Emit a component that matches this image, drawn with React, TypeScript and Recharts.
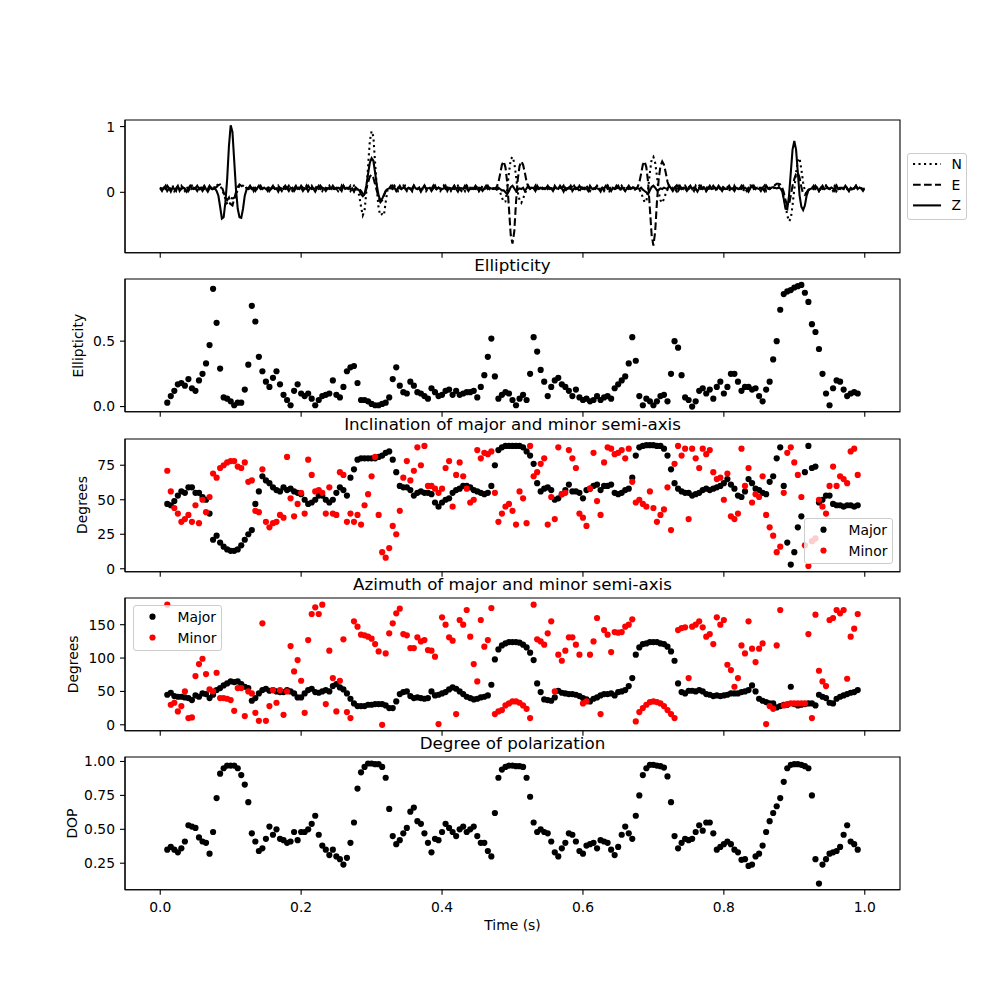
import React from "react";
import { LineChart, Line, ScatterChart, Scatter, XAxis, YAxis, ReferenceArea, Legend } from "recharts";

const FONT = '"DejaVu Sans", sans-serif';

// sampling of the traces
const WAVE_DT = 0.0025; // seismograms start at t = 0
const POL_T0 = 0.01;
const POL_DT = 0.005;

// three-component seismograms, values in hundredths
const WAVE_N = [
  5, 10, 6, 2, 7, 5, 6, 11, 2, 6, 7, 5, 10, 6, 2, 7, 5, 6, 10, 5,
  7, 5, 6, 2, 10, 6, 5, 7, 6, 2, 10, 6, 10, 12, 10, 5, -2, -10, -18, -20,
  -15, -5, -12, -5, 5, 10, 12, 10, 7, 6, 5, 7, 6, 10, 2, 6, 7, 5, 10, 6,
  2, 7, 5, 6, 10, 5, 7, 6, 2, 6, 10, 5, 6, 7, 5, 2, 7, 6, 10, 5,
  6, 7, 5, 10, 2, 6, 5, 7, 6, 10, 5, 6, 2, 7, 5, 6, 10, 6, 5, 7,
  6, 2, 7, 5, 10, 6, 5, 7, 2, 6, 10, 5, 4, -5, -22, -35, -28, 0, 40, 78,
  93, 85, 45, 5, -25, -35, -33, -35, -15, 3, 6, 7, 5, 10, 6, 2, 7, 5, 6, 10,
  5, 6, 7, 2, 10, 6, 5, 7, 6, 5, 10, 2, 6, 7, 5, 6, 10, 5, 7, 2,
  6, 10, 5, 7, 6, 2, 7, 5, 6, 10, 5, 6, 7, 2, 10, 6, 5, 7, 6, 5,
  7, 2, 6, 10, 5, 6, 7, 5, 2, 6, 5, 6, 4, 0, -8, -15, -14, 5, 30, 50,
  54, 45, 25, 0, -12, -16, -10, -2, 4, 6, 7, 5, 6, 10, 2, 7, 5, 6, 10, 5,
  6, 7, 2, 10, 5, 6, 7, 5, 6, 10, 2, 6, 7, 5, 10, 6, 5, 7, 2, 6,
  10, 5, 6, 7, 5, 2, 7, 6, 10, 5, 6, 7, 5, 6, 10, 2, 6, 7, 5, 6,
  7, 5, 10, 6, 2, 6, 7, 5, 6, 10, 5, 6, 4, 0, -8, -15, -14, 5, 30, 50,
  54, 45, 25, 0, -12, -16, -10, -2, 4, 6, 5, 7, 6, 2, 10, 6, 5, 7, 6, 5,
  10, 6, 5, 7, 2, 6, 10, 5, 6, 7, 5, 10, 6, 2, 7, 6, 5, 10, 6, 7,
  5, 6, 10, 2, 7, 5, 6, 7, 5, 10, 6, 2, 7, 6, 5, 10, 6, 7, 5, 6,
  7, 5, 6, 10, 2, 6, 7, 5, 6, 7, 8, 10, 8, 2, -8, -20, -35, -44, -40, -20,
  5, 30, 48, 52, 35, 15, 2, -2, 3, 6, 7, 5, 10, 6, 2, 6, 7, 5, 10, 6,
  5, 7, 6, 10, 2, 6, 5, 7, 6, 10, 5, 6, 7, 2, 6, 10, 5, 7, 6, 5,
  7,
];
const WAVE_E = [
  7, 5, 6, 10, 2, 6, 5, 7, 6, 2, 10, 6, 5, 7, 6, 10, 2, 6, 7, 5,
  6, 10, 5, 7, 2, 6, 7, 5, 10, 6, 5, 7, 8, 11, 12, 8, 0, -8, -12, -8,
  -18, -20, -10, 0, 8, 12, 10, 8, 6, 7, 5, 6, 10, 2, 7, 5, 6, 10, 5, 7,
  6, 2, 10, 5, 7, 6, 5, 10, 6, 2, 7, 5, 6, 10, 5, 7, 2, 6, 7, 5,
  10, 6, 5, 7, 2, 6, 10, 5, 6, 7, 5, 10, 6, 2, 7, 6, 5, 10, 6, 5,
  7, 6, 2, 10, 5, 6, 7, 5, 10, 6, 2, 7, 6, 5, 2, -2, -5, 5, 15, 24,
  27, 22, 12, 2, -8, -15, -12, -5, 2, 5, 7, 6, 10, 5, 2, 7, 6, 5, 10, 6,
  2, 7, 5, 6, 10, 6, 5, 7, 2, 6, 10, 5, 7, 6, 5, 10, 2, 6, 7, 5,
  6, 10, 5, 7, 2, 6, 5, 10, 6, 7, 5, 2, 7, 6, 10, 5, 6, 7, 5, 6,
  10, 2, 6, 7, 5, 6, 10, 5, 7, 6, 6, 8, 15, 28, 42, 47, 38, 15, -25, -65,
  -78, -60, -15, 20, 40, 47, 42, 30, 16, 8, 6, 7, 5, 10, 2, 6, 7, 5, 6, 10,
  5, 7, 6, 2, 10, 6, 5, 7, 6, 10, 2, 6, 7, 5, 6, 10, 5, 7, 2, 6,
  7, 5, 10, 6, 2, 7, 6, 5, 10, 6, 5, 7, 2, 6, 10, 5, 7, 6, 5, 10,
  6, 2, 7, 5, 10, 6, 5, 7, 6, 2, 6, 8, 15, 28, 42, 47, 38, 15, -25, -65,
  -81, -60, -15, 20, 40, 47, 42, 30, 16, 8, 6, 5, 7, 10, 2, 6, 7, 5, 10, 6,
  5, 7, 6, 2, 10, 6, 7, 5, 6, 10, 2, 6, 5, 7, 10, 6, 2, 7, 5, 6,
  10, 6, 5, 7, 6, 2, 10, 5, 7, 6, 5, 10, 6, 2, 7, 5, 6, 10, 5, 7,
  6, 2, 7, 5, 10, 6, 5, 7, 8, 11, 13, 13, 12, 8, 0, -12, -20, -18, -5, 10,
  20, 28, 30, 22, 8, -2, -4, 0, 4, 6, 7, 5, 10, 6, 2, 7, 5, 6, 10, 6,
  5, 7, 2, 6, 10, 5, 7, 6, 5, 10, 6, 2, 7, 5, 6, 10, 5, 7, 6, 2,
  6,
];
const WAVE_Z = [
  6, 2, 7, 5, 10, 6, 1, 7, 5, 6, 10, 2, 6, 7, 5, 1, 6, 10, 5, 7,
  6, 2, 7, 5, 6, 10, 5, 1, 6, 7, 5, 6, 2, -5, -22, -40, -38, -15, 20, 70,
  102, 92, 48, 5, -25, -38, -39, -25, -5, 4, 6, 10, 5, 7, 2, 6, 10, 5, 6, 7,
  5, 7, 2, 6, 10, 5, 6, 1, 7, 6, 5, 10, 6, 2, 7, 5, 6, 10, 5, 6,
  7, 2, 6, 5, 10, 6, 7, 5, 1, 6, 10, 5, 7, 6, 2, 6, 7, 5, 10, 6,
  5, 7, 6, 2, 10, 5, 6, 7, 5, 6, 1, 7, 5, 3, -3, -6, -3, 10, 28, 45,
  52, 48, 30, 10, -5, -12, -10, -4, 2, 5, 6, 10, 5, 7, 2, 6, 10, 5, 7, 6,
  5, 7, 6, 2, 10, 6, 5, 7, 1, 6, 10, 5, 6, 7, 2, 6, 10, 5, 7, 6,
  5, 6, 10, 2, 7, 5, 6, 10, 5, 1, 7, 6, 5, 10, 6, 2, 7, 5, 6, 10,
  5, 7, 6, 2, 6, 10, 5, 7, 6, 5, 6, 4, 7, 5, 3, 3, 0, -3, 2, 8,
  10, 6, 2, 4, 6, 5, 7, 2, 6, 10, 5, 7, 6, 2, 10, 5, 6, 7, 5, 6,
  10, 5, 6, 2, 7, 6, 5, 10, 6, 1, 7, 5, 6, 10, 2, 6, 7, 5, 10, 6,
  5, 7, 6, 2, 10, 6, 5, 7, 6, 5, 1, 7, 6, 10, 5, 6, 2, 7, 5, 6,
  10, 5, 7, 6, 2, 6, 10, 5, 6, 7, 5, 6, 5, 7, 4, 2, 0, -3, 3, 8,
  10, 7, 3, 4, 6, 5, 7, 6, 5, 10, 6, 2, 7, 5, 6, 10, 5, 7, 6, 2,
  6, 10, 5, 7, 6, 1, 6, 10, 5, 7, 2, 6, 10, 5, 6, 7, 5, 10, 6, 2,
  7, 5, 6, 10, 5, 6, 2, 7, 6, 5, 10, 6, 7, 5, 1, 6, 10, 5, 7, 6,
  5, 7, 6, 2, 10, 6, 5, 7, 8, 7, 6, 7, 6, 3, -10, -25, -26, -5, 30, 65,
  78, 65, 30, -5, -22, -27, -20, -5, 3, 5, 6, 10, 5, 7, 2, 6, 10, 5, 6, 7,
  5, 7, 6, 2, 10, 5, 6, 7, 5, 10, 6, 2, 7, 5, 6, 10, 5, 7, 6, 5,
  6,
];

// polarization attributes, one value per analysis window
const ELLIPTICITY = [
  0.03, 0.08, 0.12, 0.17, 0.18, 0.16, 0.21, 0.14, 0.12, 0.2,
  0.25, 0.33, 0.47, 0.9, 0.64, 0.29, 0.07, 0.06, 0.04, 0.01,
  0.03, 0.03, 0.13, 0.32, 0.77, 0.65, 0.38, 0.27, 0.19, 0.15,
  0.22, 0.27, 0.17, 0.09, 0.05, 0.01, 0.12, 0.17, 0.1, 0.08,
  0.1, 0.06, 0.01, 0.05, 0.08, 0.09, 0.1, 0.2, 0.09, 0.07,
  0.15, 0.27, 0.3, 0.31, 0.18, 0.05, 0.05, 0.04, 0.02, 0.01,
  0.01, 0.02, 0.03, 0.07, 0.21, 0.3, 0.16, 0.11, 0.1, 0.19,
  0.16, 0.11, 0.1, 0.08, 0.06, 0.14, 0.11, 0.08, 0.09, 0.12,
  0.13, 0.09, 0.12, 0.09, 0.1, 0.11, 0.11, 0.12, 0.07, 0.15,
  0.24, 0.38, 0.52, 0.23, 0.06, 0.09, 0.11, 0.1, 0.05, 0.01,
  0.06, 0.09, 0.05, 0.25, 0.53, 0.42, 0.28, 0.19, 0.08, 0.15,
  0.2, 0.22, 0.17, 0.15, 0.12, 0.08, 0.13, 0.07, 0.05, 0.06,
  0.04, 0.05, 0.08, 0.05, 0.07, 0.08, 0.06, 0.14, 0.17, 0.2,
  0.23, 0.33, 0.53, 0.35, 0.08, 0.01, 0.06, 0.04, 0.01, 0.04,
  0.08, 0.09, 0.04, 0.25, 0.5, 0.45, 0.24, 0.07, 0.05, 0.0,
  0.04, 0.12, 0.14, 0.1, 0.13, 0.06, 0.15, 0.19, 0.1, 0.15,
  0.25, 0.25, 0.19, 0.12, 0.15, 0.15, 0.13, 0.14, 0.08, 0.04,
  0.13, 0.19, 0.36, 0.5, 0.74, 0.86, 0.88, 0.89, 0.91, 0.92,
  0.93, 0.87, 0.8, 0.63, 0.57, 0.44, 0.25, 0.1, 0.01, 0.14,
  0.2, 0.19, 0.13, 0.08, 0.1, 0.11, 0.1,
];
const INC_MAJOR = [
  47, 46, 49, 53, 56, 55, 59, 59, 55, 55,
  52, 50, 40, 21, 24, 19, 16, 14, 13, 13,
  14, 17, 21, 25, 28, 47, 56, 67, 64, 62,
  59, 57, 56, 59, 57, 58, 56, 55, 54, 50,
  47, 48, 50, 53, 53, 50, 48, 50, 55, 59,
  57, 53, 66, 72, 79, 80, 80, 80, 80, 80,
  81, 82, 84, 85, 79, 70, 60, 59, 59, 57,
  53, 55, 56, 55, 55, 54, 48, 45, 48, 50,
  51, 55, 57, 58, 60, 60, 59, 57, 56, 55,
  54, 55, 60, 75, 86, 88, 89, 89, 89, 89,
  89, 88, 85, 82, 76, 62, 56, 58, 59, 57,
  50, 51, 54, 57, 61, 56, 56, 55, 51, 57,
  58, 60, 61, 57, 60, 60, 61, 55, 54, 55,
  57, 58, 66, 82, 88, 89, 89.5, 89.5, 89.5, 89,
  89, 87, 82, 72, 62, 58, 56, 55, 55, 53,
  54, 55, 57, 58, 57, 58, 59, 60, 62, 65,
  61, 58, 53, 52, 56, 65, 62, 58, 57, 55,
  54, 63, 67, 80, 88, 60, 19, 3, 12, 30,
  38, 70, 89, 73, 74, 48, 50, 53, 53, 47,
  46, 46, 45, 46, 46, 45, 46,
];
const INC_MINOR = [
  71, 56, 44, 40, 34, 36, 39, 34, 46, 33,
  50, 41, 52, 69, 66, 73, 75, 77, 78, 78,
  74, 73, 77, 63, 64, 42, 41, 72, 34, 30,
  33, 34, 39, 37, 81, 51, 38, 47, 55, 40,
  79, 68, 56, 57, 55, 40, 59, 40, 39, 70,
  68, 34, 40, 34, 39, 32, 46, 54, 67, 81,
  39, 12, 8, 15, 31, 25, 42, 66, 78, 64,
  71, 88, 75, 89, 60, 60, 58, 55, 58, 73,
  78, 45, 68, 77, 67, 58, 48, 50, 86, 80,
  84, 83, 85, 55, 34, 40, 45, 47, 42, 32,
  56, 51, 33, 89, 67, 70, 76, 80, 32, 52,
  36, 88, 54, 55, 86, 80, 73, 40, 37, 31,
  58, 84, 49, 39, 77, 88, 87, 83, 84, 86,
  80, 87, 63, 48, 50, 47, 45, 56, 44, 34,
  39, 43, 59, 28, 76, 89, 82, 87, 36, 87,
  80, 73, 87, 83, 86, 70, 65, 66, 50, 69,
  38, 36, 40, 87, 60, 73, 48, 54, 52, 67,
  39, 30, 24, 12, 16, 55, 84, 88, 77, 68,
  52, 17, 2, 20, 22, 50, 45, 40, 60, 74,
  60, 67, 65, 62, 85, 87, 68,
];
const AZ_MAJOR = [
  45, 48, 43, 42, 42, 41, 40, 37, 44, 42,
  47, 46, 40, 45, 52, 55, 59, 62, 65, 64,
  65, 61, 57, 55, 36, 40, 47, 52, 54, 51,
  52, 50, 49, 49, 52, 50, 47, 41, 41, 47,
  52, 54, 49, 48, 50, 52, 50, 58, 61, 56,
  53, 47, 39, 32, 28, 28, 28, 30, 30, 31,
  31, 31, 29, 25, 25, 35, 46, 49, 50, 43,
  40, 41, 40, 39, 40, 50, 44, 45, 47, 49,
  53, 56, 54, 50, 46, 42, 40, 38, 39, 41,
  42, 44, 60, 98, 113, 119, 122, 124, 124, 124,
  123, 120, 116, 108, 97, 62, 49, 38, 37, 36,
  41, 51, 48, 47, 46, 46, 45, 43, 40, 38,
  35, 39, 41, 44, 46, 46, 47, 44, 49, 50,
  52, 58, 70, 105, 116, 121, 122, 124, 124, 124,
  122, 121, 117, 110, 96, 62, 49, 47, 51, 51,
  50, 52, 50, 46, 45, 43, 44, 43, 44, 45,
  47, 47, 47, 49, 50, 52, 59, 50, 39, 36,
  34, 32, 32, 26, 28, 30, 30, 57, 31, 29,
  30, 31, 32, 32, 29, 45, 42, 40, 33, 32,
  39, 42, 44, 46, 48, 49, 52,
];
const AZ_MINOR = [
  180, 30, 33, 20, 28, 50, 10, 11, 73, 91,
  99, 76, 53, 50, 78, 40, 40, 39, 37, 21,
  55, 55, 13, 50, 47, 18, 6, 152, 6, 28,
  52, 33, 52, 15, 50, 118, 80, 97, 66, 18,
  127, 166, 176, 166, 180, 31, 111, 70, 20, 66,
  128, 19, 10, 155, 147, 135, 134, 132, 129, 121,
  110, 0, 107, 137, 152, 167, 174, 136, 134, 115,
  115, 131, 125, 127, 112, 111, 102, 1, 161, 150,
  131, 126, 16, 157, 150, 172, 132, 91, 65, 157,
  117, 127, 175, 16, 20, 22, 29, 32, 35, 35,
  33, 29, 24, 10, 180, 128, 125, 120, 137, 155,
  50, 105, 96, 111, 131, 131, 120, 105, 32, 35,
  105, 125, 160, 16, 142, 135, 109, 139, 138, 139,
  147, 150, 158, 5, 19, 25, 30, 34, 35, 34,
  32, 28, 22, 16, 10, 142, 145, 146, 70, 147,
  150, 155, 146, 132, 136, 121, 161, 150, 157, 90,
  82, 57, 70, 119, 107, 155, 114, 94, 114, 122,
  1, 28, 24, 119, 172, 29, 31, 32, 32, 32,
  32, 32, 136, 10, 165, 81, 65, 58, 157, 160,
  172, 167, 172, 69, 132, 144, 166,
];
const DOP = [
  0.35, 0.37, 0.35, 0.33, 0.36, 0.41, 0.53, 0.52, 0.51, 0.44,
  0.41, 0.4, 0.32, 0.48, 0.73, 0.91, 0.95, 0.97, 0.97, 0.97,
  0.95, 0.9, 0.83, 0.7, 0.47, 0.41, 0.34, 0.36, 0.43, 0.52,
  0.46, 0.5, 0.43, 0.42, 0.4, 0.41, 0.48, 0.42, 0.48, 0.48,
  0.5, 0.54, 0.6, 0.46, 0.38, 0.35, 0.31, 0.35, 0.3, 0.28,
  0.24, 0.29, 0.4, 0.55, 0.8, 0.92, 0.96, 0.985, 0.985, 0.98,
  0.98, 0.96, 0.88, 0.65, 0.45, 0.39, 0.42, 0.47, 0.51, 0.63,
  0.66, 0.56, 0.54, 0.47, 0.4, 0.33, 0.43, 0.42, 0.48, 0.54,
  0.51, 0.48, 0.45, 0.5, 0.52, 0.48, 0.5, 0.52, 0.45, 0.4,
  0.4, 0.34, 0.3, 0.62, 0.88, 0.94, 0.96, 0.97, 0.97, 0.965,
  0.965, 0.96, 0.88, 0.74, 0.55, 0.48, 0.5, 0.48, 0.47, 0.41,
  0.33, 0.3, 0.36, 0.4, 0.47, 0.46, 0.41, 0.34, 0.32, 0.38,
  0.39, 0.4, 0.36, 0.42, 0.41, 0.4, 0.35, 0.31, 0.37, 0.46,
  0.52, 0.47, 0.43, 0.6, 0.75, 0.9, 0.95, 0.975, 0.975, 0.97,
  0.965, 0.955, 0.89, 0.7, 0.45, 0.36, 0.4, 0.43, 0.42, 0.43,
  0.48, 0.53, 0.49, 0.55, 0.55, 0.47, 0.35, 0.37, 0.39, 0.41,
  0.39, 0.35, 0.33, 0.275, 0.28, 0.23, 0.24, 0.3, 0.32, 0.38,
  0.48, 0.56, 0.62, 0.67, 0.73, 0.85, 0.95, 0.975, 0.98, 0.98,
  0.975, 0.965, 0.95, 0.75, 0.28, 0.1, 0.24, 0.28, 0.32, 0.33,
  0.34, 0.37, 0.46, 0.53, 0.41, 0.39, 0.35,
];

const TIME_TICKS = [0, 0.2, 0.4, 0.6, 0.8, 1.0];
const COMPONENTS = ["N", "E", "Z"];
const SEMI_AXES = ["Major", "Minor"];
const TITLES = [
  "Ellipticity",
  "Inclination of major and minor semi-axis",
  "Azimuth of major and minor semi-axis",
  "Degree of polarization",
];
const Y_LABELS = ["Ellipticity", "Degrees", "Degrees", "DOP"];

const waveData = WAVE_Z.map((z, k) => ({
  t: k * WAVE_DT,
  n: WAVE_N[k] / 100,
  e: WAVE_E[k] / 100,
  z: z / 100,
}));
const series = (vals: number[]) => vals.map((v, i) => ({ t: POL_T0 + i * POL_DT, v }));

// layout of the five stacked axes (matplotlib subplots, 1000 x 1000 figure)
const PANEL_TOP = [120, 279.3, 438.6, 597.9, 757.2];
const PANEL_H = 132.8;
const PAD = 10; // room above each plot so the top tick label is not clipped
const X_DOMAIN = [-0.05, 1.05];
const MARGIN = { top: PAD, right: 100, bottom: 0, left: 65 };
const Y_LABEL_X = [82.7, 87.4, 78.4, 76.7];

const BLACK = "#000000";
const RED = "#ff0000";
const spine = { stroke: BLACK, strokeWidth: 1.1 };
const tickText = { fill: BLACK, fontSize: 13.9 };
const DASH = { N: "2.1 3.4", E: "7.7 3.3", Z: undefined } as Record<string, string | undefined>;

function timeAxis(withLabels: boolean) {
  return (
    <XAxis
      dataKey="t"
      type="number"
      domain={X_DOMAIN}
      allowDataOverflow
      ticks={TIME_TICKS}
      interval={0}
      tickFormatter={withLabels ? (v: number) => v.toFixed(1) : () => ""}
      tickSize={5}
      tickMargin={7}
      axisLine={spine}
      tickLine={spine}
      tick={tickText}
      height={withLabels ? 50 : 20}
    />
  );
}

function valueAxis(domain: number[], ticks: number[], fmt: (v: number) => string, dataKey?: string) {
  return (
    <YAxis
      dataKey={dataKey}
      type="number"
      domain={domain}
      allowDataOverflow
      ticks={ticks}
      interval={0}
      tickFormatter={fmt}
      tickSize={5}
      tickMargin={5}
      axisLine={spine}
      tickLine={spine}
      tick={tickText}
      width={60}
    />
  );
}

function frame(domain: number[]) {
  return (
    <ReferenceArea
      x1={X_DOMAIN[0]}
      x2={X_DOMAIN[1]}
      y1={domain[0]}
      y2={domain[1]}
      fill="none"
      stroke={BLACK}
      strokeWidth={1.1}
      ifOverflow="visible"
    />
  );
}

const dot = (color: string) => (p: any) => <circle cx={p.cx} cy={p.cy} r={3.1} fill={color} />;

const legendBox = (w: number, h: number): React.CSSProperties => ({
  width: w,
  height: h,
  boxSizing: "border-box",
  border: "1px solid #cccccc",
  borderRadius: 3,
  background: "rgba(255,255,255,0.8)",
  fontFamily: FONT,
});

function WaveLegend() {
  return (
    <div style={legendBox(60, 67)}>
      <svg width={58} height={65} style={{ display: "block" }}>
        {COMPONENTS.map((c, j) => (
          <g key={c}>
            <line x1={5} x2={33} y1={10 + 20.7 * j} y2={10 + 20.7 * j} stroke={BLACK} strokeWidth={2.08} strokeDasharray={DASH[c]} />
            <text x={43.5} y={10 + 20.7 * j} dy="0.36em" fontSize={13.9} fill={BLACK}>{c}</text>
          </g>
        ))}
      </svg>
    </div>
  );
}

function AxesLegend() {
  return (
    <div style={legendBox(89, 46)}>
      <svg width={87} height={44} style={{ display: "block" }}>
        {SEMI_AXES.map((name, j) => (
          <g key={name}>
            <circle cx={18.5} cy={10.7 + 20.8 * j} r={3.1} fill={j ? RED : BLACK} />
            <text x={43.5} y={10.7 + 20.8 * j} dy="0.36em" fontSize={13.9} fill={BLACK}>{name}</text>
          </g>
        ))}
      </svg>
    </div>
  );
}

const WAVE_DOMAIN = [-0.92, 1.1];
const ELL_DOMAIN = [-0.04, 0.975];
const INC_DOMAIN = [-2.2, 94];
const AZ_DOMAIN = [-9, 190];
const DOP_DOMAIN = [0.054, 1.033];

export default function App() {
  const place = (j: number): React.CSSProperties => ({ position: "absolute", left: 0, top: PANEL_TOP[j] - PAD });
  return (
    <div style={{ position: "absolute", left: 0, top: 0, width: 1000, height: 1000, background: "#fff", fontFamily: FONT }}>
      <svg width={1000} height={1000} style={{ position: "absolute", left: 0, top: 0 }}>
        {TITLES.map((t, j) => (
          <text key={t} x={512.5} y={PANEL_TOP[j + 1] - 8.3} textAnchor="middle" fontSize={16.7} fill={BLACK}>{t}</text>
        ))}
        {Y_LABELS.map((t, j) => (
          <text
            key={j}
            transform={`translate(${Y_LABEL_X[j]},${PANEL_TOP[j + 1] + PANEL_H / 2}) rotate(-90)`}
            textAnchor="middle"
            fontSize={13.9}
            fill={BLACK}
          >
            {t}
          </text>
        ))}
        <text x={512.5} y={930} textAnchor="middle" fontSize={13.9} fill={BLACK}>Time (s)</text>
      </svg>

      <div style={place(0)}>
        <LineChart width={1000} height={PANEL_H + 20 + PAD} data={waveData} margin={MARGIN}>
          {timeAxis(false)}
          {valueAxis(WAVE_DOMAIN, [0, 1], (v) => String(v))}
          {frame(WAVE_DOMAIN)}
          <Line type="linear" dataKey="n" name="N" stroke={BLACK} strokeWidth={2.08} strokeDasharray={DASH.N} dot={false} activeDot={false} isAnimationActive={false} />
          <Line type="linear" dataKey="e" name="E" stroke={BLACK} strokeWidth={2.08} strokeDasharray={DASH.E} dot={false} activeDot={false} isAnimationActive={false} />
          <Line type="linear" dataKey="z" name="Z" stroke={BLACK} strokeWidth={2.08} dot={false} activeDot={false} isAnimationActive={false} />
          <Legend layout="vertical" align="center" verticalAlign="middle" wrapperStyle={{ left: 907.3, top: 33.3 + PAD, width: 60, height: 67 }} content={() => <WaveLegend />} />
        </LineChart>
      </div>

      <div style={place(1)}>
        <ScatterChart width={1000} height={PANEL_H + 20 + PAD} margin={MARGIN}>
          {timeAxis(false)}
          {valueAxis(ELL_DOMAIN, [0, 0.5], (v) => v.toFixed(1), "v")}
          {frame(ELL_DOMAIN)}
          <Scatter data={series(ELLIPTICITY)} shape={dot(BLACK)} isAnimationActive={false} />
        </ScatterChart>
      </div>

      <div style={place(2)}>
        <ScatterChart width={1000} height={PANEL_H + 20 + PAD} margin={MARGIN}>
          {timeAxis(false)}
          {valueAxis(INC_DOMAIN, [0, 25, 50, 75], (v) => String(v), "v")}
          {frame(INC_DOMAIN)}
          <Scatter name="Major" data={series(INC_MAJOR)} shape={dot(BLACK)} isAnimationActive={false} />
          <Scatter name="Minor" data={series(INC_MINOR)} shape={dot(RED)} isAnimationActive={false} />
          <Legend layout="vertical" align="center" verticalAlign="middle" wrapperStyle={{ left: 804, top: 79.7 + PAD, width: 89, height: 46 }} content={() => <AxesLegend />} />
        </ScatterChart>
      </div>

      <div style={place(3)}>
        <ScatterChart width={1000} height={PANEL_H + 20 + PAD} margin={MARGIN}>
          {timeAxis(false)}
          {valueAxis(AZ_DOMAIN, [0, 50, 100, 150], (v) => String(v), "v")}
          {frame(AZ_DOMAIN)}
          <Scatter name="Major" data={series(AZ_MAJOR)} shape={dot(BLACK)} isAnimationActive={false} />
          <Scatter name="Minor" data={series(AZ_MINOR)} shape={dot(RED)} isAnimationActive={false} />
          <Legend layout="vertical" align="center" verticalAlign="middle" wrapperStyle={{ left: 132.7, top: 7.1 + PAD, width: 89, height: 46 }} content={() => <AxesLegend />} />
        </ScatterChart>
      </div>

      <div style={place(4)}>
        <ScatterChart width={1000} height={PANEL_H + 50 + PAD} margin={MARGIN}>
          {timeAxis(true)}
          {valueAxis(DOP_DOMAIN, [0.25, 0.5, 0.75, 1], (v) => v.toFixed(2), "v")}
          {frame(DOP_DOMAIN)}
          <Scatter data={series(DOP)} shape={dot(BLACK)} isAnimationActive={false} />
        </ScatterChart>
      </div>
    </div>
  );
}
